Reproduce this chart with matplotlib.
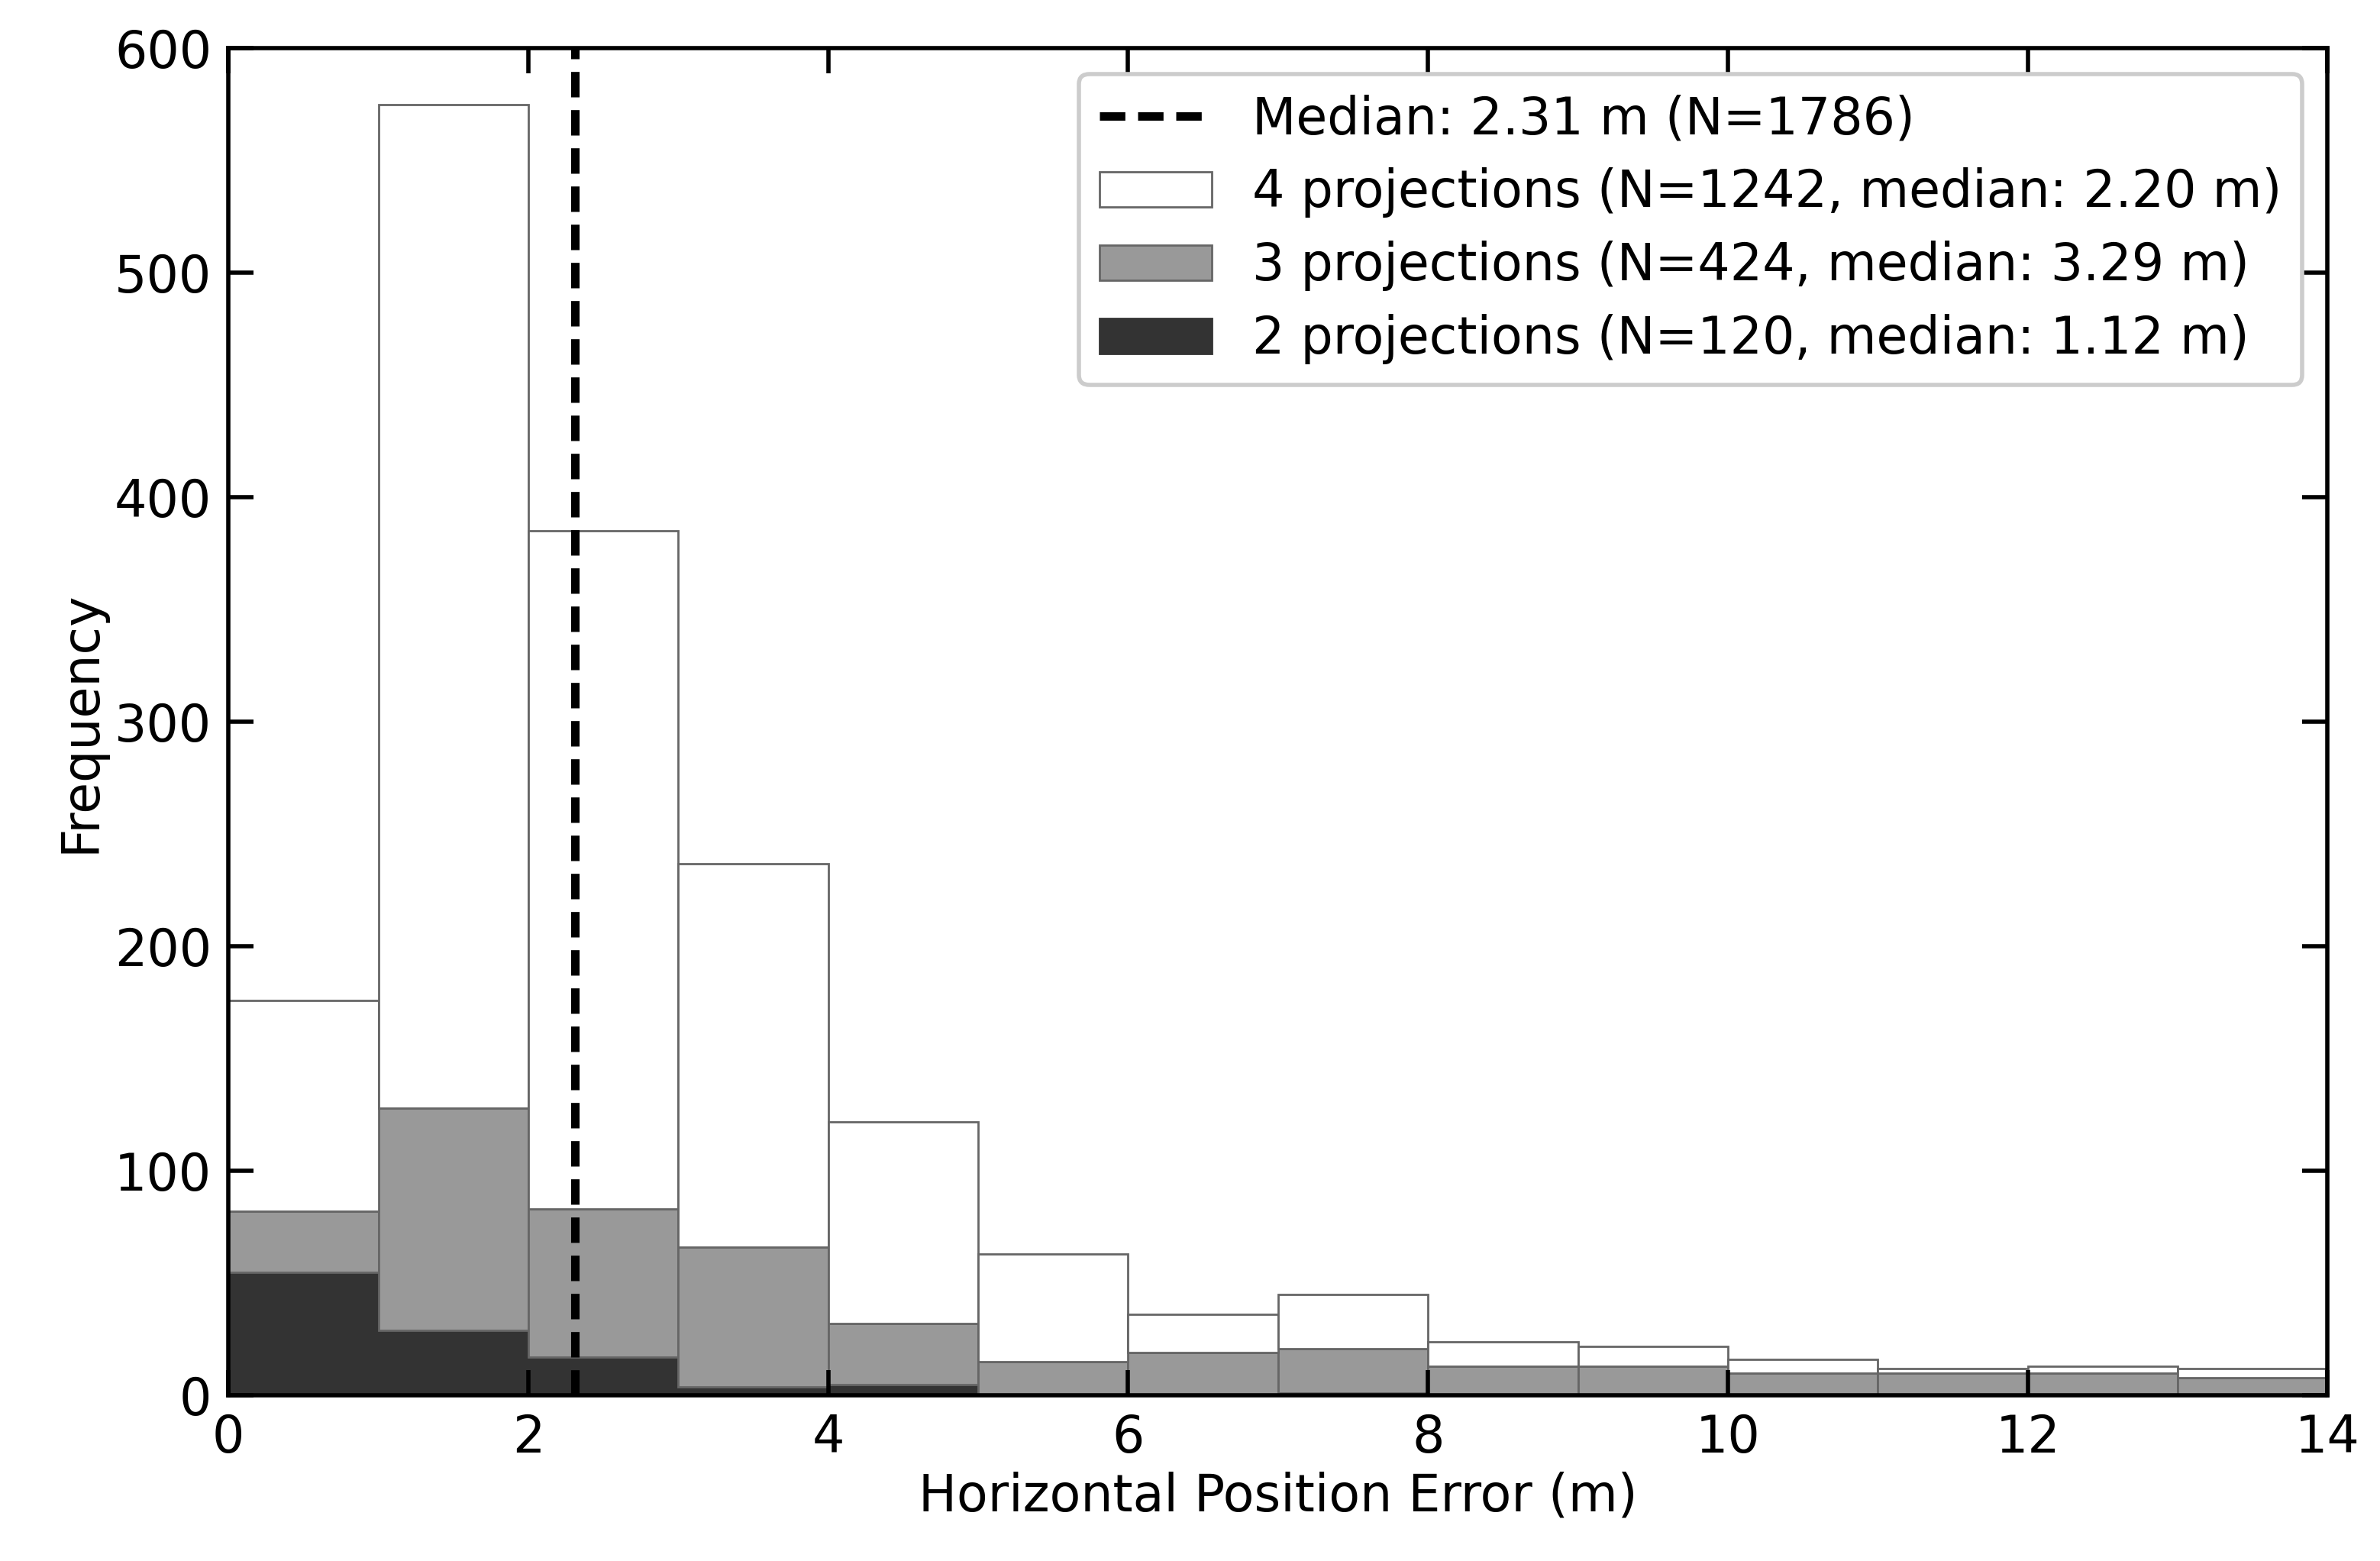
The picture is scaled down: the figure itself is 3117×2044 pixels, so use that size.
import matplotlib.pyplot as plt
import numpy as np

plt.rcParams["font.family"] = ["DejaVu Sans"]

bin_edges = list(range(0, 15))
# top of each layer (cumulative heights)
total_top = [176, 575, 385, 237, 122, 63, 36, 45, 24, 22, 16, 12, 13, 12]
gray_top = [82, 128, 83, 66, 32, 15, 19, 21, 13, 13, 10, 10, 10, 8]
dark_top = [55, 29, 17, 4, 5, 0, 0, 1, 0, 0, 0, 0, 0, 0]

labels = [
    "4 projections (N=1242, median: 2.20 m)",
    "3 projections (N=424, median: 3.29 m)",
    "2 projections (N=120, median: 1.12 m)",
]
median_all = 2.31

fig = plt.figure(figsize=(15.585, 10.22), dpi=200)
ax = fig.add_axes([0.096, 0.106, 0.882, 0.863])

left = np.array(bin_edges[:-1])
dark = np.array(dark_top)
gray = np.array(gray_top) - dark
white = np.array(total_top) - np.array(gray_top)

line = ax.axvline(median_all, color="black", linestyle="--", linewidth=4, dashes=(3, 1.5), zorder=5,
                  label="Median: 2.31 m (N=1786)")
b2 = ax.bar(left, dark, width=1, align="edge", color="#333333", edgecolor="#333333", linewidth=1, label=labels[2])
b3 = ax.bar(left, gray, width=1, bottom=dark, align="edge", color="#999999", edgecolor="#666666", linewidth=1, label=labels[1])
b4 = ax.bar(left, white, width=1, bottom=dark + gray, align="edge", color="white", edgecolor="#666666", linewidth=1, label=labels[0])

ax.set_xlim(0, 14)
ax.set_ylim(0, 600)
ax.set_xticks(range(0, 15, 2))
ax.set_yticks(range(0, 601, 100))
ax.tick_params(direction="in", top=True, right=True, length=12, width=2, labelsize=24, pad=8)
for s in ax.spines.values():
    s.set_linewidth(2)
ax.set_xlabel("Horizontal Position Error (m)", fontsize=24)
ax.set_ylabel("Frequency", fontsize=24)

leg = ax.legend([line, b4, b3, b2], ["Median: 2.31 m (N=1786)"] + labels, loc="upper right",
                fontsize=24, handlelength=2.2, borderpad=0.4, labelspacing=0.45, framealpha=1)
leg.get_frame().set_edgecolor("#cccccc")
leg.get_frame().set_linewidth(2)

fig.savefig("out.png", dpi=200)
